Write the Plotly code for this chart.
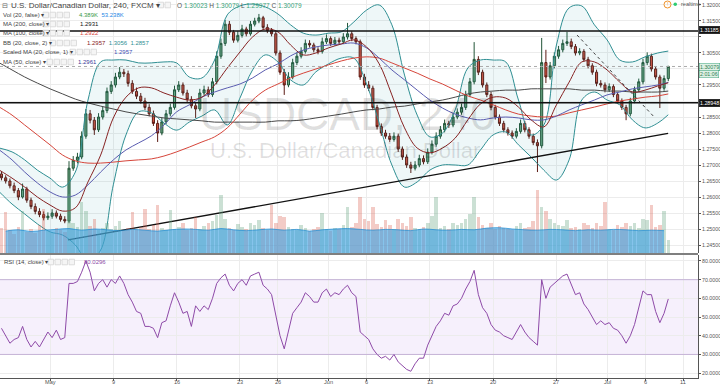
import plotly.graph_objects as go

# ---------------- data ----------------
opens = [
    1.2672, 1.2660, 1.2650, 1.2635, 1.2620, 1.2600, 1.2625, 1.2590, 1.2570, 1.2555,
    1.2545, 1.2535, 1.2540, 1.2550, 1.2540, 1.2530, 1.2525, 1.2690, 1.2715, 1.2725,
    1.2790, 1.2860, 1.2840, 1.2810, 1.2850, 1.2870, 1.2930, 1.2950, 1.2975, 1.2990,
    1.2985, 1.2955, 1.2930, 1.2915, 1.2900, 1.2880, 1.2860, 1.2830, 1.2800, 1.2835,
    1.2860, 1.2880, 1.2935, 1.2950, 1.2925, 1.2905, 1.2885, 1.2875, 1.2925, 1.2935,
    1.2920, 1.2960, 1.3040, 1.3080, 1.3140, 1.3115, 1.3090, 1.3105, 1.3125, 1.3110,
    1.3140, 1.3150, 1.3160, 1.3130, 1.3120, 1.3110, 1.3050, 1.2990, 1.2950, 1.2975,
    1.3020, 1.3040, 1.3055, 1.3080, 1.3075, 1.3060, 1.3055, 1.3085, 1.3095, 1.3080,
    1.3090, 1.3085, 1.3100, 1.3110, 1.3095, 1.3085, 1.2975, 1.2950, 1.2940, 1.2880,
    1.2820, 1.2800, 1.2790, 1.2780, 1.2790, 1.2750, 1.2725, 1.2700, 1.2690, 1.2700,
    1.2720, 1.2710, 1.2740, 1.2765, 1.2790, 1.2810, 1.2830, 1.2825, 1.2850, 1.2865,
    1.2880, 1.2920, 1.2960, 1.3030, 1.2990, 1.2950, 1.2920, 1.2880, 1.2850, 1.2830,
    1.2810, 1.2800, 1.2790, 1.2805, 1.2830, 1.2810, 1.2790, 1.2770, 1.2760, 1.3020,
    1.2975, 1.3010, 1.3040, 1.3060, 1.3080, 1.3085, 1.3070, 1.3050, 1.3055, 1.3030,
    1.3010, 1.2990, 1.2955, 1.2950, 1.2935, 1.2945, 1.2920, 1.2900, 1.2880, 1.2860,
    1.2900, 1.2935, 1.2960, 1.3020, 1.3040, 1.3000, 1.2975, 1.2940, 1.2970,
]
highs = [
    1.2680, 1.2668, 1.2658, 1.2645, 1.2628, 1.2642, 1.2632, 1.2598, 1.2580, 1.2565,
    1.2555, 1.2552, 1.2562, 1.2558, 1.2548, 1.2540, 1.2712, 1.2728, 1.2738, 1.2805,
    1.2875, 1.2872, 1.2850, 1.2862, 1.2882, 1.2942, 1.2962, 1.2988, 1.3006, 1.3000,
    1.2995, 1.2965, 1.2942, 1.2925, 1.2910, 1.2890, 1.2870, 1.2840, 1.2848, 1.2872,
    1.2892, 1.2948, 1.2962, 1.2958, 1.2935, 1.2915, 1.2895, 1.2938, 1.2948, 1.2945,
    1.2972, 1.3055, 1.3095, 1.3153, 1.3150, 1.3122, 1.3118, 1.3138, 1.3132, 1.3150,
    1.3160, 1.3172, 1.3166, 1.3140, 1.3128, 1.3118, 1.3058, 1.3000, 1.2990, 1.3032,
    1.3052, 1.3068, 1.3092, 1.3090, 1.3082, 1.3068, 1.3098, 1.3108, 1.3102, 1.3100,
    1.3098, 1.3112, 1.3144, 1.3118, 1.3102, 1.3092, 1.2985, 1.2962, 1.2948, 1.2888,
    1.2830, 1.2810, 1.2800, 1.2802, 1.2798, 1.2758, 1.2733, 1.2710, 1.2712, 1.2732,
    1.2730, 1.2752, 1.2777, 1.2802, 1.2822, 1.2842, 1.2838, 1.2862, 1.2877, 1.2892,
    1.2932, 1.2972, 1.3084, 1.3040, 1.2998, 1.2958, 1.2928, 1.2888, 1.2858, 1.2838,
    1.2818, 1.2808, 1.2815, 1.2842, 1.2838, 1.2818, 1.2798, 1.2780, 1.3097, 1.3060,
    1.3022, 1.3052, 1.3072, 1.3092, 1.3116, 1.3095, 1.3078, 1.3065, 1.3062, 1.3038,
    1.3018, 1.2998, 1.2965, 1.2958, 1.2955, 1.2952, 1.2928, 1.2908, 1.2888, 1.2910,
    1.2945, 1.2970, 1.3032, 1.3052, 1.3048, 1.3008, 1.2982, 1.2980, 1.3010,
]
lows = [
    1.2652, 1.2642, 1.2627, 1.2612, 1.2590, 1.2595, 1.2582, 1.2562, 1.2546, 1.2537,
    1.2527, 1.2528, 1.2532, 1.2533, 1.2523, 1.2518, 1.2518, 1.2682, 1.2705, 1.2718,
    1.2782, 1.2830, 1.2794, 1.2803, 1.2842, 1.2862, 1.2922, 1.2942, 1.2968, 1.2975,
    1.2945, 1.2922, 1.2906, 1.2892, 1.2872, 1.2852, 1.2822, 1.2772, 1.2793, 1.2828,
    1.2852, 1.2873, 1.2928, 1.2917, 1.2897, 1.2877, 1.2847, 1.2868, 1.2918, 1.2912,
    1.2913, 1.2952, 1.3032, 1.3072, 1.3106, 1.3082, 1.3083, 1.3098, 1.3102, 1.3104,
    1.3133, 1.3143, 1.3122, 1.3112, 1.3102, 1.3042, 1.2982, 1.2919, 1.2943, 1.2968,
    1.3012, 1.3033, 1.3048, 1.3067, 1.3052, 1.3046, 1.3048, 1.3078, 1.3072, 1.3073,
    1.3077, 1.3078, 1.3092, 1.3087, 1.3077, 1.2966, 1.2941, 1.2931, 1.2871, 1.2811,
    1.2791, 1.2782, 1.2772, 1.2773, 1.2741, 1.2716, 1.2691, 1.2675, 1.2683, 1.2693,
    1.2702, 1.2703, 1.2733, 1.2757, 1.2782, 1.2802, 1.2816, 1.2818, 1.2843, 1.2857,
    1.2872, 1.2912, 1.2952, 1.2981, 1.2942, 1.2912, 1.2871, 1.2842, 1.2822, 1.2802,
    1.2792, 1.2782, 1.2783, 1.2798, 1.2802, 1.2782, 1.2762, 1.2678, 1.2752, 1.2956,
    1.2967, 1.3002, 1.3032, 1.3052, 1.3072, 1.3062, 1.3042, 1.3043, 1.3022, 1.3002,
    1.2982, 1.2946, 1.2942, 1.2927, 1.2928, 1.2912, 1.2892, 1.2872, 1.2840, 1.2852,
    1.2893, 1.2928, 1.2952, 1.3012, 1.2992, 1.2967, 1.2878, 1.2932, 1.2962,
]
closes = [
    1.2660, 1.2650, 1.2635, 1.2620, 1.2600, 1.2625, 1.2590, 1.2570, 1.2555, 1.2545,
    1.2535, 1.2540, 1.2550, 1.2540, 1.2530, 1.2525, 1.2690, 1.2715, 1.2725, 1.2790,
    1.2860, 1.2840, 1.2810, 1.2850, 1.2870, 1.2930, 1.2950, 1.2975, 1.2990, 1.2985,
    1.2955, 1.2930, 1.2915, 1.2900, 1.2880, 1.2860, 1.2830, 1.2800, 1.2835, 1.2860,
    1.2880, 1.2935, 1.2950, 1.2925, 1.2905, 1.2885, 1.2875, 1.2925, 1.2935, 1.2920,
    1.2960, 1.3040, 1.3080, 1.3140, 1.3115, 1.3090, 1.3105, 1.3125, 1.3110, 1.3140,
    1.3150, 1.3160, 1.3130, 1.3120, 1.3110, 1.3050, 1.2990, 1.2950, 1.2975, 1.3020,
    1.3040, 1.3055, 1.3080, 1.3075, 1.3060, 1.3055, 1.3085, 1.3095, 1.3080, 1.3090,
    1.3085, 1.3100, 1.3110, 1.3095, 1.3085, 1.2975, 1.2950, 1.2940, 1.2880, 1.2820,
    1.2800, 1.2790, 1.2780, 1.2790, 1.2750, 1.2725, 1.2700, 1.2690, 1.2700, 1.2720,
    1.2710, 1.2740, 1.2765, 1.2790, 1.2810, 1.2830, 1.2825, 1.2850, 1.2865, 1.2880,
    1.2920, 1.2960, 1.3030, 1.2990, 1.2950, 1.2920, 1.2880, 1.2850, 1.2830, 1.2810,
    1.2800, 1.2790, 1.2805, 1.2830, 1.2810, 1.2790, 1.2770, 1.2760, 1.3020, 1.2975,
    1.3010, 1.3040, 1.3060, 1.3080, 1.3085, 1.3070, 1.3050, 1.3055, 1.3030, 1.3010,
    1.2990, 1.2955, 1.2950, 1.2935, 1.2945, 1.2920, 1.2900, 1.2880, 1.2860, 1.2900,
    1.2935, 1.2960, 1.3020, 1.3040, 1.3000, 1.2975, 1.2940, 1.2970, 1.3008,
]
volumes_k = [
    60, 98, 55, 45, 62, 100, 50, 58, 48, 66,
    105, 52, 47, 60, 55, 50, 140, 70, 62, 120,
    100, 65, 80, 55, 60, 72, 58, 64, 75, 52,
    60, 98, 55, 62, 105, 58, 66, 114, 60, 55,
    103, 58, 62, 70, 55, 60, 85, 57, 64, 70,
    75, 90, 137, 80, 60, 55, 68, 62, 58, 72,
    66, 78, 60, 55, 115, 70, 88, 85, 62, 58,
    54, 66, 60, 52, 58, 62, 95, 57, 52, 60,
    58, 66, 110, 62, 70, 133, 80, 75, 110, 68,
    62, 78, 66, 58, 80, 72, 65, 85, 60, 58,
    62, 70, 88, 133, 60, 64, 58, 70, 66, 72,
    80, 92, 133, 85, 66, 60, 72, 58, 64, 60,
    58, 55, 64, 70, 60, 62, 75, 150, 110, 100,
    80, 72, 66, 64, 78, 60, 62, 58, 70, 66,
    60, 72, 64, 120, 58, 55, 66, 62, 70, 64,
    72, 60, 80, 78, 115, 62, 66, 100, 30,
]
rsi_values = [
    44, 40, 36, 38, 39, 45, 38, 34, 37, 34,
    38, 42, 39, 43, 38, 39, 68, 68, 69, 74,
    80, 74, 64, 68, 70, 66, 70, 68, 72, 68,
    62, 58, 53, 52, 45, 45, 44, 39, 47, 48,
    56, 63, 58, 52, 53, 45, 56, 53, 56, 54,
    60, 68, 71, 73, 67, 64, 68, 70, 67, 72,
    73, 74, 67, 65, 62, 50, 40, 33, 42, 52,
    55, 58, 63, 61, 58, 58, 63, 65, 61, 63,
    62, 65, 67, 63, 61, 42, 40, 38, 33, 30,
    28, 29, 27, 30, 26, 24, 22, 21, 25, 28,
    28, 35, 40, 45, 48, 52, 51, 56, 57, 60,
    65, 69, 75, 62, 55, 52, 46, 43, 42, 40,
    39, 38, 42, 46, 42, 39, 37, 35, 70, 60,
    66, 68, 70, 72, 73, 67, 62, 63, 57, 54,
    50, 46, 48, 46, 47, 44, 43, 40, 36, 40,
    46, 55, 64, 62, 62, 53, 47, 52, 59.7,
]
vol_ma_k = [
    52, 55, 51, 54, 56, 58, 54, 57, 55, 53, 56, 54, 52, 55, 57, 56, 54, 58,
    55, 53, 55, 57, 54, 56, 52, 55, 57, 58, 56, 54, 56, 55, 53, 57, 55, 54,
    56, 55, 59, 60, 57, 55, 54, 56, 55, 53, 55, 54, 56, 55, 53, 54, 53,
]
# indicator lines, one value per trading day boundary (-4 .. 48) plus the last bar
bb_upper = [
    1.2753, 1.2741, 1.2716, 1.2684, 1.2659, 1.2631, 1.2678, 1.2903, 1.3022, 1.3028,
    1.3028, 1.3019, 1.3019, 1.3022, 1.3019, 1.2975, 1.2972, 1.3028, 1.3169, 1.3197,
    1.3203, 1.3194, 1.3172, 1.3138, 1.3112, 1.3106, 1.3112, 1.3116, 1.3147, 1.3184,
    1.3200, 1.3138, 1.2981, 1.2856, 1.2788, 1.2800, 1.2872, 1.3003, 1.3028, 1.3028,
    1.3022, 1.2903, 1.2794, 1.2825, 1.3075, 1.3191, 1.3197, 1.3138, 1.3091, 1.3028,
    1.3022, 1.3038, 1.3050, 1.3056,
]
bb_lower = [
    1.2616, 1.2578, 1.2547, 1.2516, 1.2491, 1.2481, 1.2450, 1.2397, 1.2434, 1.2638,
    1.2794, 1.2866, 1.2863, 1.2831, 1.2809, 1.2834, 1.2853, 1.2872, 1.2825, 1.2909,
    1.2997, 1.3044, 1.3022, 1.2966, 1.2950, 1.2991, 1.3016, 1.3034, 1.3034, 1.2953,
    1.2831, 1.2700, 1.2631, 1.2647, 1.2684, 1.2700, 1.2700, 1.2700, 1.2747, 1.2794,
    1.2803, 1.2763, 1.2725, 1.2684, 1.2653, 1.2716, 1.2903, 1.2928, 1.2903, 1.2888,
    1.2841, 1.2816, 1.2831, 1.2857,
]
bb_basis = [
    1.2684, 1.2659, 1.2631, 1.2600, 1.2575, 1.2556, 1.2566, 1.2647, 1.2731, 1.2847,
    1.2912, 1.2941, 1.2941, 1.2925, 1.2912, 1.2903, 1.2912, 1.2950, 1.3003, 1.3053,
    1.3100, 1.3125, 1.3116, 1.3075, 1.3044, 1.3050, 1.3066, 1.3078, 1.3091, 1.3069,
    1.3016, 1.2919, 1.2816, 1.2753, 1.2738, 1.2753, 1.2784, 1.2841, 1.2891, 1.2912,
    1.2909, 1.2881, 1.2841, 1.2819, 1.2888, 1.2959, 1.3022, 1.3022, 1.2997, 1.2959,
    1.2928, 1.2934, 1.2947, 1.2957,
]
ma50 = [
    1.2747, 1.2716, 1.2678, 1.2644, 1.2616, 1.2600, 1.2606, 1.2638, 1.2678, 1.2716,
    1.2747, 1.2769, 1.2791, 1.2825, 1.2866, 1.2888, 1.2912, 1.2928, 1.2941, 1.2953,
    1.2972, 1.2997, 1.3016, 1.3041, 1.3059, 1.3069, 1.3075, 1.3078, 1.3081, 1.3066,
    1.3034, 1.2997, 1.2966, 1.2934, 1.2903, 1.2878, 1.2859, 1.2847, 1.2841, 1.2847,
    1.2850, 1.2847, 1.2841, 1.2841, 1.2853, 1.2872, 1.2888, 1.2903, 1.2919, 1.2928,
    1.2938, 1.2944, 1.2950, 1.2958,
]
ma100 = [
    1.2881, 1.2856, 1.2825, 1.2794, 1.2763, 1.2731, 1.2713, 1.2706, 1.2706, 1.2709,
    1.2713, 1.2716, 1.2719, 1.2728, 1.2741, 1.2756, 1.2772, 1.2788, 1.2816, 1.2859,
    1.2903, 1.2934, 1.2953, 1.2972, 1.2987, 1.3000, 1.3013, 1.3025, 1.3034, 1.3038,
    1.3034, 1.3019, 1.3003, 1.2987, 1.2969, 1.2953, 1.2934, 1.2916, 1.2903, 1.2888,
    1.2872, 1.2859, 1.2853, 1.2850, 1.2853, 1.2863, 1.2872, 1.2881, 1.2891, 1.2900,
    1.2906, 1.2912, 1.2916, 1.2922,
]
ma200 = [
    1.3019, 1.2997, 1.2975, 1.2956, 1.2938, 1.2922, 1.2906, 1.2894, 1.2884, 1.2875,
    1.2866, 1.2859, 1.2853, 1.2847, 1.2844, 1.2841, 1.2838, 1.2834, 1.2834, 1.2834,
    1.2834, 1.2834, 1.2838, 1.2838, 1.2841, 1.2847, 1.2853, 1.2859, 1.2866, 1.2872,
    1.2875, 1.2881, 1.2884, 1.2891, 1.2897, 1.2903, 1.2912, 1.2922, 1.2928, 1.2931,
    1.2934, 1.2934, 1.2938, 1.2938, 1.2938, 1.2938, 1.2934, 1.2934, 1.2931, 1.2931,
    1.2928, 1.2928, 1.2928, 1.2931,
]
tick_days = [0, 5, 10, 15, 18, 22, 25, 30, 35, 40, 44, 47, 50]
tick_labels = ["May", "9", "16", "23", "26", "Jun", "6", "13", "20", "27", "Jul", "6", "11"]
price_ticks = [1.245, 1.250, 1.255, 1.260, 1.265, 1.270, 1.275, 1.280, 1.285, 1.290,
               1.295, 1.300, 1.305, 1.310, 1.315, 1.320]
# labels hidden behind the price boxes in the reference
price_labels_hidden = [1.290, 1.300, 1.310]
rsi_ticks = [20, 30, 40, 50, 60, 70, 80]
hline_prices = [1.31185, 1.28948]
last_price = 1.30079
trend_days = [1.42, 48.82]
trend_prices = [1.2466, 1.2799]
dotted_days = [41.63, 47.79]
dotted_prices = [1.3106, 1.2847]

# ---------------- positions on the trading-day axis ----------------
candle_x = [j + (s + 0.5) / 3 for j in range(-4, 49) for s in range(3)]
line_days = list(range(-4, 49)) + [48.83]
vol_ma_x = [j + 0.5 for j in range(-4, 49)]

n = min(len(candle_x), len(opens), len(highs), len(lows), len(closes))
m = min(len(line_days), len(bb_upper), len(bb_lower), len(bb_basis), len(ma50), len(ma100), len(ma200))

FONT = "Liberation Sans, Arial, sans-serif"
PLOT_W, PLOT_H = 698.0, 378.0


def px(x):
    return x / PLOT_W


def py(y):
    return (PLOT_H - y) / PLOT_H


UP_FILL, UP_LINE = "#6ba583", "#225437"
DN_FILL, DN_LINE = "#d75442", "#5b1a13"
TEAL = "#2f8f93"

fig = go.Figure()

# volume
vol_cols = ["rgba(107,165,131,0.35)" if closes[i] >= opens[i] else "rgba(215,84,66,0.30)" for i in range(n)]
nv = min(n, len(volumes_k))
fig.add_trace(go.Bar(x=candle_x[:nv], y=[v * 1000 for v in volumes_k[:nv]], marker_color=vol_cols[:nv],
                     marker_line_width=0, width=0.28, yaxis="y2", hoverinfo="skip"))
nm = min(len(vol_ma_x), len(vol_ma_k))
fig.add_trace(go.Scatter(x=vol_ma_x[:nm], y=[v * 1000 for v in vol_ma_k[:nm]], mode="lines", line_shape="spline",
                         line=dict(color="rgba(30,140,210,0.9)", width=0.8), fill="tozeroy",
                         fillcolor="rgba(60,160,225,0.62)", yaxis="y2", hoverinfo="skip"))

# Bollinger bands and moving averages
fig.add_trace(go.Scatter(x=line_days[:m], y=bb_upper[:m], mode="lines", line_shape="spline",
                         line=dict(color=TEAL, width=1), hoverinfo="skip"))
fig.add_trace(go.Scatter(x=line_days[:m], y=bb_lower[:m], mode="lines", line_shape="spline",
                         line=dict(color=TEAL, width=1), fill="tonexty",
                         fillcolor="rgba(40,150,170,0.08)", hoverinfo="skip"))
fig.add_trace(go.Scatter(x=line_days[:m], y=ma200[:m], mode="lines", line_shape="spline",
                         line=dict(color="#4a4a4a", width=1), hoverinfo="skip"))
fig.add_trace(go.Scatter(x=line_days[:m], y=ma100[:m], mode="lines", line_shape="spline",
                         line=dict(color="#d6453a", width=1), hoverinfo="skip"))
fig.add_trace(go.Scatter(x=line_days[:m], y=ma50[:m], mode="lines", line_shape="spline",
                         line=dict(color="#5a5cb0", width=1), hoverinfo="skip"))
fig.add_trace(go.Scatter(x=line_days[:m], y=bb_basis[:m], mode="lines", line_shape="spline",
                         line=dict(color="#872323", width=1), hoverinfo="skip"))

# drawn trend lines
fig.add_trace(go.Scatter(x=trend_days, y=trend_prices, mode="lines",
                         line=dict(color="#111111", width=1.3), hoverinfo="skip"))
fig.add_trace(go.Scatter(x=dotted_days, y=dotted_prices, mode="lines",
                         line=dict(color="#444444", width=1, dash="dot"), hoverinfo="skip"))

# candles
fig.add_trace(go.Candlestick(
    x=candle_x[:n], open=opens[:n], high=highs[:n], low=lows[:n], close=closes[:n],
    increasing=dict(fillcolor=UP_FILL, line=dict(color=UP_LINE, width=1)),
    decreasing=dict(fillcolor=DN_FILL, line=dict(color=DN_LINE, width=1)),
    hoverinfo="skip"))

# RSI
nr = min(n, len(rsi_values))
fig.add_trace(go.Scatter(x=candle_x[:nr], y=rsi_values[:nr], mode="lines", yaxis="y3",
                         line=dict(color="#8e4aa8", width=1), hoverinfo="skip"))

shapes = []
for p in hline_prices:
    shapes.append(dict(type="line", xref="paper", yref="y", x0=0, x1=1, y0=p, y1=p,
                       line=dict(color="#111111", width=1.5)))
shapes.append(dict(type="line", xref="paper", yref="y", x0=0, x1=1, y0=last_price, y1=last_price,
                   line=dict(color="#aaaaaa", width=1, dash="dot")))
shapes.append(dict(type="rect", xref="paper", yref="y3", x0=0, x1=1, y0=30, y1=70,
                   fillcolor="rgba(150,90,220,0.09)", line=dict(width=0), layer="below"))
for lv in (30, 70):
    shapes.append(dict(type="line", xref="paper", yref="y3", x0=0, x1=1, y0=lv, y1=lv,
                       line=dict(color="rgba(150,110,190,0.45)", width=1)))
shapes.append(dict(type="line", xref="paper", yref="paper", x0=0, x1=1, y0=py(254), y1=py(254),
                   line=dict(color="#555555", width=1.5)))
icon_rows = [(5, 158, 2), (15, 43, 4), (24, 43, 4), (33, 43, 4), (43, 50, 4), (52, 70, 4), (62, 47, 4), (262, 48, 4)]
for (yy, x0, cnt) in icon_rows:
    for k in range(cnt):
        xa = x0 + k * 7
        shapes.append(dict(type="rect", xref="paper", yref="paper", x0=px(xa), x1=px(xa + 5.5),
                           y0=py(yy + 2.8), y1=py(yy - 2.8), line=dict(color="#d5d5d5", width=0.8),
                           fillcolor="#f5f5f5"))
shapes.append(dict(type="circle", xref="paper", yref="paper", x0=px(664), x1=px(671), y0=py(8), y1=py(1),
                   line=dict(color="#f0932b", width=1)))
shapes.append(dict(type="circle", xref="paper", yref="paper", x0=px(673.5), x1=px(677), y0=py(6), y1=py(2.5),
                   line=dict(color="#2ecc71", width=0), fillcolor="#2ecc71"))

ann = []


def txt(x, y, s, size=6, color="#444444", anchor="left"):
    ann.append(dict(xref="paper", yref="paper", x=px(x), y=py(y), text=s, showarrow=False,
                    xanchor=anchor, yanchor="middle", font=dict(family=FONT, size=size, color=color)))


# axis tick labels (placed on the axes' own scales)
for p in price_ticks:
    if any(abs(p - h) < 1e-9 for h in price_labels_hidden):
        continue
    ann.append(dict(xref="paper", yref="y", x=px(700.5), y=p, text="%.5f" % p, showarrow=False,
                    xanchor="left", yanchor="middle", borderpad=0,
                    font=dict(family=FONT, size=5.3, color="#555555")))
for v in rsi_ticks:
    ann.append(dict(xref="paper", yref="y3", x=px(700.5), y=v, text="%.4f" % v, showarrow=False,
                    xanchor="left", yanchor="middle", borderpad=0,
                    font=dict(family=FONT, size=5.3, color="#555555")))
for d, lab in zip(tick_days, tick_labels):
    ann.append(dict(xref="x", yref="paper", x=d, y=py(382), text=lab, showarrow=False,
                    xanchor="center", yanchor="middle", borderpad=0,
                    font=dict(family=FONT, size=5.6, color="#555555")))

# watermark
ann.append(dict(xref="paper", yref="paper", x=px(347), y=py(114), text="USDCAD, 240", showarrow=False,
                xanchor="center", yanchor="middle", font=dict(family=FONT, size=46, color="rgba(0,0,0,0.12)")))
ann.append(dict(xref="paper", yref="paper", x=px(345), y=py(151), text="U.S. Dollar/Canadian Dollar",
                showarrow=False, xanchor="center", yanchor="middle",
                font=dict(family=FONT, size=22, color="rgba(0,0,0,0.12)")))

# legend texts
txt(0, 5, "⊟", 7, "#666666")
txt(9, 5, "U.S. Dollar/Canadian Dollar, 240, FXCM ▾", 8, "#444444")
G = "#3aa37a"
txt(175, 5, "O <span style='color:%s'>1.30023</span> H <span style='color:%s'>1.30079</span> "
            "L <span style='color:%s'>1.29977</span> C <span style='color:%s'>1.30079</span>" % (G, G, G, G),
    6.5, "#555555")
txt(1, 15, "Vol (20, false) ▾", 6)
txt(77, 15, "<span style='color:#3a9a4a'>4.389K</span>  <span style='color:#1e88e5'>53.238K</span>", 6)
txt(1, 24, "MA (200, close) ▾", 6)
txt(78, 24, "1.2931", 6, "#111111")
txt(1, 33, "MA (100, close) ▾", 6)
txt(78, 33, "1.2922", 6, "#d6453a")
txt(1, 43, "BB (20, close, 2) ▾", 6)
txt(85, 43, "<span style='color:#872323'>1.2957</span>  <span style='color:#2f8f93'>1.3056</span>  "
            "<span style='color:#2f8f93'>1.2857</span>", 6)
txt(1, 52, "Scaled MA (20, close, 1) ▾", 6)
txt(112, 52, "1.2957", 6, "#3f51b5")
txt(1, 62, "MA (50, close) ▾", 6)
txt(76, 62, "1.2961", 6, "#3b3b9a")
txt(2, 262, "RSI (14, close) ▾", 6)
txt(82, 262, "80.0296", 6, "#8e4aa8")
txt(679, 4.5, "realtime", 5.5, "#555555")
txt(667.5, 4.5, "!", 5, "#f0932b", "center")


def price_box(y, s, bg, fg, border=None):
    ann.append(dict(xref="paper", yref="paper", x=px(698.5), y=py(y), text=s, showarrow=False,
                    xanchor="left", yanchor="middle", bgcolor=bg, bordercolor=border or bg, borderwidth=0.5,
                    borderpad=0.5, font=dict(family=FONT, size=5.3, color=fg)))


price_box(30, "1.31185", "#111111", "#ffffff")
price_box(66.5, "1.30079", "#dff1e6", "#2e7d4f", "#3aa37a")
price_box(74, "2:01:06", "#dff1e6", "#2e7d4f", "#3aa37a")
price_box(103, "1.28948", "#111111", "#ffffff")

fig.update_layout(
    width=720, height=385, margin=dict(l=0, r=22, t=0, b=7, autoexpand=False),
    paper_bgcolor="#ffffff", plot_bgcolor="#ffffff", showlegend=False,
    shapes=shapes, annotations=ann, bargap=0, hovermode=False,
    xaxis=dict(domain=[0, 1], range=[-3.95, 51.18], anchor="y3", tickmode="array",
               tickvals=tick_days, showticklabels=False, automargin=False,
               showgrid=True, gridcolor="#ececec", gridwidth=1,
               zeroline=False, showline=True, linecolor="#555555", linewidth=1, ticks="outside",
               ticklen=2, tickcolor="#555555", rangeslider=dict(visible=False)),
    yaxis=dict(domain=[py(253), 1], range=[1.24250, 1.32156], side="right", tickmode="array",
               tickvals=price_ticks, showticklabels=False, automargin=False,
               showgrid=True, gridcolor="#ececec", zeroline=False, showline=True,
               linecolor="#555555", ticks="outside", ticklen=2, tickcolor="#555555"),
    yaxis2=dict(domain=[py(253), 1], range=[0, 600000], overlaying="y", visible=False, automargin=False),
    yaxis3=dict(domain=[0, py(255)], range=[17.4, 83.2], side="right", tickmode="array",
                tickvals=rsi_ticks, showticklabels=False, automargin=False,
                showgrid=True, gridcolor="#ececec",
                zeroline=False, showline=True, linecolor="#555555", ticks="outside", ticklen=2,
                tickcolor="#555555"),
)

# the page's default body margin would shift the 720x385 figure; remove it
fig.write_html("out.html", config={"displayModeBar": False},
               post_script="document.body.style.margin='0px';document.body.style.overflow='hidden';")
